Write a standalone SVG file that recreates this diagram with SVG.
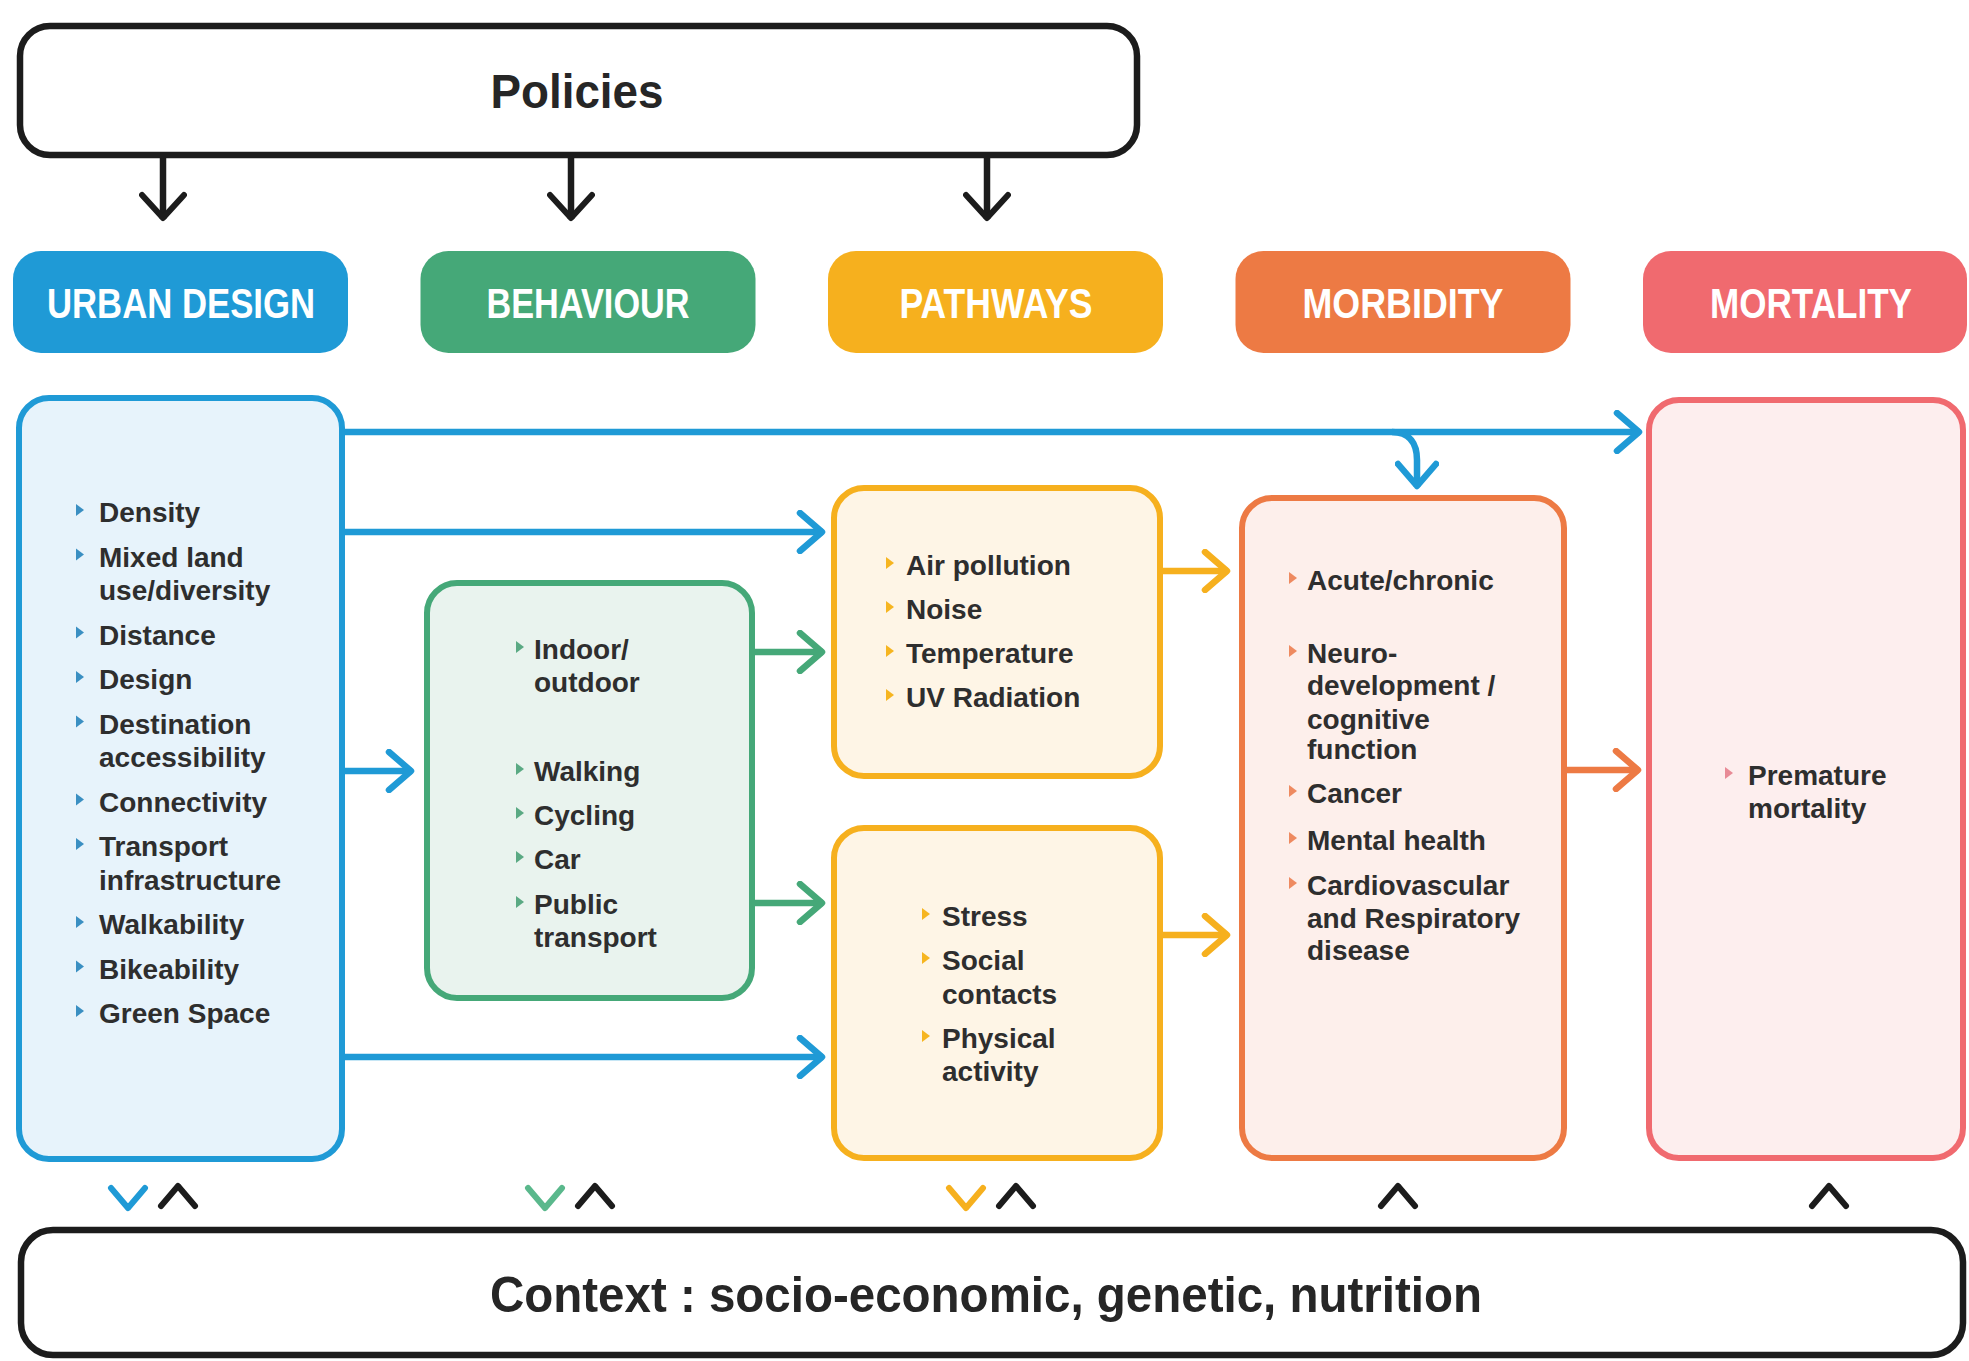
<svg xmlns="http://www.w3.org/2000/svg" width="1969" height="1361" viewBox="0 0 1969 1361">
<defs>
<style>
.frame{fill:#ffffff;stroke:#1c1c1c;stroke-width:6.5}
.title{font-family:"Liberation Sans",Arial,sans-serif;font-weight:bold;fill:#262626;text-anchor:middle}
.pilltxt{font-family:"Liberation Sans",Arial,sans-serif;font-weight:bold;font-size:42px;fill:#ffffff;text-anchor:middle}
.item{font-family:"Liberation Sans",Arial,sans-serif;font-weight:bold;font-size:28px;fill:#2e2e2e}
.box{stroke-width:6}
.conn{fill:none;stroke-width:6.5}
.chev{fill:none;stroke-width:6;stroke-linecap:round;stroke-linejoin:round}
</style>
<marker id="ah-k" viewBox="0 0 32 48" refX="28" refY="24" markerWidth="32" markerHeight="48" markerUnits="userSpaceOnUse" orient="auto"><path d="M4,3 L27,24 L4,45" fill="none" stroke="#1c1c1c" stroke-width="6" stroke-linecap="round" stroke-linejoin="round"/></marker>
<marker id="ah-b" viewBox="0 0 32 44" refX="28" refY="22" markerWidth="32" markerHeight="44" markerUnits="userSpaceOnUse" orient="auto"><path d="M5,3 L27,22 L5,41" fill="none" stroke="#1f9ad6" stroke-width="6.5" stroke-linecap="round" stroke-linejoin="round"/></marker>
<marker id="ah-g" viewBox="0 0 32 44" refX="28" refY="22" markerWidth="32" markerHeight="44" markerUnits="userSpaceOnUse" orient="auto"><path d="M5,3 L27,22 L5,41" fill="none" stroke="#45a878" stroke-width="6.5" stroke-linecap="round" stroke-linejoin="round"/></marker>
<marker id="ah-y" viewBox="0 0 32 44" refX="28" refY="22" markerWidth="32" markerHeight="44" markerUnits="userSpaceOnUse" orient="auto"><path d="M5,3 L27,22 L5,41" fill="none" stroke="#f6b01e" stroke-width="6.5" stroke-linecap="round" stroke-linejoin="round"/></marker>
<marker id="ah-o" viewBox="0 0 32 44" refX="28" refY="22" markerWidth="32" markerHeight="44" markerUnits="userSpaceOnUse" orient="auto"><path d="M5,3 L27,22 L5,41" fill="none" stroke="#ed7a44" stroke-width="6.5" stroke-linecap="round" stroke-linejoin="round"/></marker>
</defs>
<rect width="1969" height="1361" fill="#ffffff"/>

<g id="policies">
<rect class="frame" x="20" y="26" width="1117" height="129" rx="30"/>
<text class="title" x="577" y="108" font-size="48" textLength="173" lengthAdjust="spacingAndGlyphs">Policies</text>
</g>

<g id="header-urban"><rect x="13" y="251" width="335" height="102" rx="28" fill="#1f9ad6"/><text class="pilltxt" x="181" y="318" textLength="268" lengthAdjust="spacingAndGlyphs">URBAN DESIGN</text></g>
<g id="header-behaviour"><rect x="420.5" y="251" width="335" height="102" rx="28" fill="#45a878"/><text class="pilltxt" x="588" y="318" textLength="203" lengthAdjust="spacingAndGlyphs">BEHAVIOUR</text></g>
<g id="header-pathways"><rect x="828" y="251" width="335" height="102" rx="28" fill="#f6b01e"/><text class="pilltxt" x="996" y="318" textLength="193" lengthAdjust="spacingAndGlyphs">PATHWAYS</text></g>
<g id="header-morbidity"><rect x="1235.5" y="251" width="335" height="102" rx="28" fill="#ed7a44"/><text class="pilltxt" x="1403" y="318" textLength="201" lengthAdjust="spacingAndGlyphs">MORBIDITY</text></g>
<g id="header-mortality"><rect x="1643" y="251" width="324" height="102" rx="28" fill="#f06a6f"/><text class="pilltxt" x="1811" y="318" textLength="202" lengthAdjust="spacingAndGlyphs">MORTALITY</text></g>

<g id="urban-design">
<rect class="box" x="19" y="398" width="323" height="761" rx="30" fill="#e7f3fb" stroke="#1f9ad6"/>
<g fill="#3a8fc2">
<path d="M76,504 l8,6 l-8,6 Z"/><path d="M76,548.5 l8,6 l-8,6 Z"/><path d="M76,626.5 l8,6 l-8,6 Z"/><path d="M76,671 l8,6 l-8,6 Z"/><path d="M76,715.5 l8,6 l-8,6 Z"/><path d="M76,793.5 l8,6 l-8,6 Z"/><path d="M76,838 l8,6 l-8,6 Z"/><path d="M76,916 l8,6 l-8,6 Z"/><path d="M76,960.5 l8,6 l-8,6 Z"/><path d="M76,1005 l8,6 l-8,6 Z"/>
</g>
<text class="item" x="99" y="522">Density</text>
<text class="item" x="99" y="566.5">Mixed land</text>
<text class="item" x="99" y="600">use/diversity</text>
<text class="item" x="99" y="644.5">Distance</text>
<text class="item" x="99" y="689">Design</text>
<text class="item" x="99" y="733.5">Destination</text>
<text class="item" x="99" y="767">accessibility</text>
<text class="item" x="99" y="811.5">Connectivity</text>
<text class="item" x="99" y="856">Transport</text>
<text class="item" x="99" y="889.5">infrastructure</text>
<text class="item" x="99" y="934">Walkability</text>
<text class="item" x="99" y="978.5">Bikeability</text>
<text class="item" x="99" y="1023">Green Space</text>
</g>

<g id="behaviour">
<rect class="box" x="427" y="583" width="325" height="415" rx="30" fill="#e9f3ee" stroke="#45a878"/>
<g fill="#5aa983">
<path d="M516,641 l8,6 l-8,6 Z"/><path d="M516,763 l8,6 l-8,6 Z"/><path d="M516,807 l8,6 l-8,6 Z"/><path d="M516,851 l8,6 l-8,6 Z"/><path d="M516,896 l8,6 l-8,6 Z"/>
</g>
<text class="item" x="534" y="659">Indoor/</text>
<text class="item" x="534" y="692">outdoor</text>
<text class="item" x="534" y="781">Walking</text>
<text class="item" x="534" y="825">Cycling</text>
<text class="item" x="534" y="869">Car</text>
<text class="item" x="534" y="914">Public</text>
<text class="item" x="534" y="947">transport</text>
</g>

<g id="pathways-environment">
<rect class="box" x="834" y="488" width="326" height="288" rx="30" fill="#fef5e6" stroke="#f6b01e"/>
<g fill="#f6b520">
<path d="M886,557 l8,6 l-8,6 Z"/><path d="M886,601 l8,6 l-8,6 Z"/><path d="M886,645 l8,6 l-8,6 Z"/><path d="M886,689 l8,6 l-8,6 Z"/>
</g>
<text class="item" x="906" y="575">Air pollution</text>
<text class="item" x="906" y="619">Noise</text>
<text class="item" x="906" y="663">Temperature</text>
<text class="item" x="906" y="707">UV Radiation</text>
</g>

<g id="pathways-social">
<rect class="box" x="834" y="828" width="326" height="330" rx="30" fill="#fef5e6" stroke="#f6b01e"/>
<g fill="#f6b520">
<path d="M922,908 l8,6 l-8,6 Z"/><path d="M922,952 l8,6 l-8,6 Z"/><path d="M922,1030 l8,6 l-8,6 Z"/>
</g>
<text class="item" x="942" y="926">Stress</text>
<text class="item" x="942" y="970">Social</text>
<text class="item" x="942" y="1004">contacts</text>
<text class="item" x="942" y="1048">Physical</text>
<text class="item" x="942" y="1081">activity</text>
</g>

<g id="morbidity">
<rect class="box" x="1242" y="498" width="322" height="660" rx="30" fill="#fdefeb" stroke="#ed7a44"/>
<g fill="#ee8a60">
<path d="M1289,572 l8,6 l-8,6 Z"/><path d="M1289,645 l8,6 l-8,6 Z"/><path d="M1289,785 l8,6 l-8,6 Z"/><path d="M1289,832 l8,6 l-8,6 Z"/><path d="M1289,877 l8,6 l-8,6 Z"/>
</g>
<text class="item" x="1307" y="590">Acute/chronic</text>
<text class="item" x="1307" y="663">Neuro-</text>
<text class="item" x="1307" y="695">development /</text>
<text class="item" x="1307" y="729">cognitive</text>
<text class="item" x="1307" y="759">function</text>
<text class="item" x="1307" y="803">Cancer</text>
<text class="item" x="1307" y="850">Mental health</text>
<text class="item" x="1307" y="895">Cardiovascular</text>
<text class="item" x="1307" y="928">and Respiratory</text>
<text class="item" x="1307" y="960">disease</text>
</g>

<g id="mortality">
<rect class="box" x="1649" y="400" width="314" height="758" rx="30" fill="#fdeeee" stroke="#f06a6f"/>
<path d="M1725,767 l8,6 l-8,6 Z" fill="#e88a96"/>
<text class="item" x="1748" y="785">Premature</text>
<text class="item" x="1748" y="818">mortality</text>
</g>

<g id="context">
<rect class="frame" x="21" y="1230" width="1942" height="125" rx="32"/>
<text class="title" x="986" y="1312" font-size="50" textLength="992" lengthAdjust="spacingAndGlyphs">Context : socio-economic, genetic, nutrition</text>
</g>

<g id="connectors">
<g stroke="#1c1c1c" class="conn">
<path d="M163,158 V219" marker-end="url(#ah-k)"/>
<path d="M571,158 V219" marker-end="url(#ah-k)"/>
<path d="M987,158 V219" marker-end="url(#ah-k)"/>
</g>
<g stroke="#1f9ad6" class="conn">
<path d="M345,432 H1640" marker-end="url(#ah-b)"/>
<path d="M1392,432 C1410,432 1417,444 1417,460 V487" marker-end="url(#ah-b)"/>
<path d="M345,532 H823" marker-end="url(#ah-b)"/>
<path d="M345,771 H412" marker-end="url(#ah-b)"/>
<path d="M345,1057 H823" marker-end="url(#ah-b)"/>
</g>
<g stroke="#45a878" class="conn">
<path d="M752,652 H823" marker-end="url(#ah-g)"/>
<path d="M752,903 H823" marker-end="url(#ah-g)"/>
</g>
<g stroke="#f6b01e" class="conn">
<path d="M1160,571 H1228" marker-end="url(#ah-y)"/>
<path d="M1160,935 H1228" marker-end="url(#ah-y)"/>
</g>
<g stroke="#ed7a44" class="conn">
<path d="M1564,770 H1639" marker-end="url(#ah-o)"/>
</g>
<g class="chev">
<path d="M111,1188 L128,1208 L145,1188" stroke="#1f9ad6"/>
<path d="M161,1206 L178,1186 L195,1206" stroke="#1c1c1c"/>
<path d="M528,1188 L545,1208 L562,1188" stroke="#5ab88c"/>
<path d="M578,1206 L595,1186 L612,1206" stroke="#1c1c1c"/>
<path d="M949,1188 L966,1208 L983,1188" stroke="#f6b01e"/>
<path d="M999,1206 L1016,1186 L1033,1206" stroke="#1c1c1c"/>
<path d="M1381,1206 L1398,1186 L1415,1206" stroke="#1c1c1c"/>
<path d="M1812,1206 L1829,1186 L1846,1206" stroke="#1c1c1c"/>
</g>
</g>
</svg>
